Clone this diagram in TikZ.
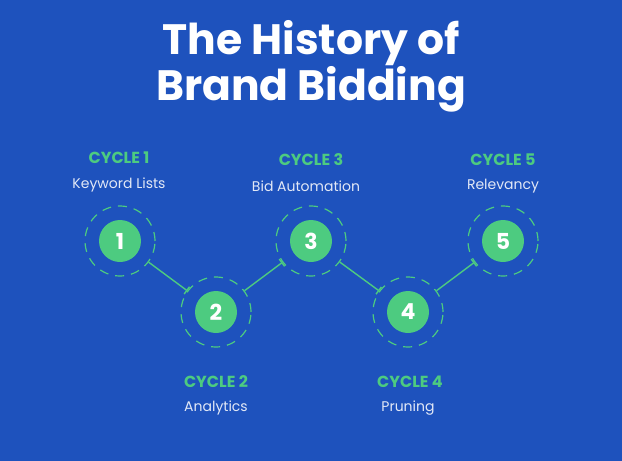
\documentclass[tikz,border=0pt]{standalone}
\usepackage{fontspec}
\setmainfont{Poppins}
\usetikzlibrary{arrows.meta}
\definecolor{bg}{HTML}{1E52BD}
\definecolor{grn}{HTML}{4DCB80}
\definecolor{lab}{HTML}{E2E8F6}
\begin{document}
\begin{tikzpicture}[x=1pt,y=-1pt,
  disc/.style={circle,fill=grn,minimum size=42pt,inner sep=0pt,text=white,font=\fontsize{22}{22}\selectfont\bfseries},
  ring/.style={circle,draw=grn,line width=1.2pt,dash pattern=on 9pt off 7pt,minimum size=70pt,inner sep=0pt},
  cyc/.style={text=grn,font=\fontsize{16}{16}\selectfont\bfseries,inner sep=0pt},
  lbl/.style={text=lab,font=\fontsize{14}{14}\selectfont,inner sep=0pt},
  conn/.style={draw=grn,line width=1.4pt,-{Bar[width=9pt,line width=1.4pt]}},
  ttl/.style={text=white,font=\fontsize{42.5}{42.5}\selectfont\bfseries,inner sep=0pt}]
\fill[bg] (0,0) rectangle (622,461);
\useasboundingbox (0,0) rectangle (622,461);
\node[ttl] (t1) at (311,43) {The History of};
\node[ttl] (t2) at (311,89) {Brand Bidding};
\foreach \i/\x/\y in {1/120/241,2/216/312,3/311/241,4/408/312,5/503/241}{
  \node[disc] (d\i) at (\x,\y) {\i};
  \node[ring] (r\i) at (\x,\y) {};
}
\node[cyc] (c1) at (119,158) {CYCLE 1};
\node[lbl] (l1) at (119,185) {Keyword Lists};
\node[cyc] (c3) at (311,160) {CYCLE 3};
\node[lbl] (l3) at (306,186) {Bid Automation};
\node[cyc] (c5) at (503,160) {CYCLE 5};
\node[lbl] (l5) at (503,186) {Relevancy};
\node[cyc] (c2) at (216,382) {CYCLE 2};
\node[lbl] (l2) at (216,408) {Analytics};
\node[cyc] (c4) at (410,382) {CYCLE 4};
\node[lbl] (l4) at (408,408) {Pruning};
\draw[conn] (r1) -- (r2);
\draw[conn] (r2) -- (r3);
\draw[conn] (r3) -- (r4);
\draw[conn] (r4) -- (r5);
\end{tikzpicture}
\end{document}
